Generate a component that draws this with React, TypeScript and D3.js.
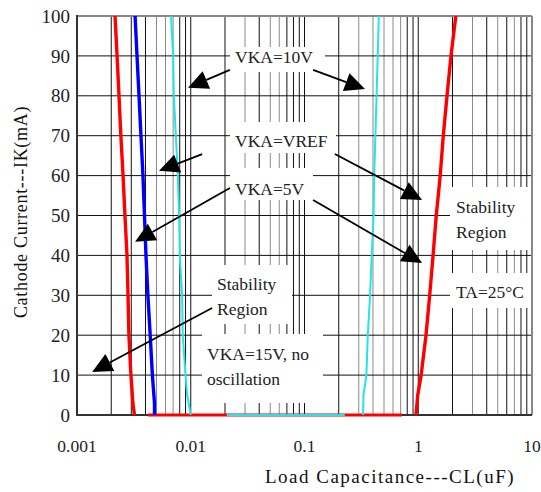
import React from "react";
import * as d3 from "d3";

// Load capacitance (uF) vs cathode current (mA) stability boundaries
const xTicks = [0.001, 0.01, 0.1, 1, 10];
const xTickLabels = ["0.001", "0.01", "0.1", "1", "10"];
const yTicks = [0, 10, 20, 30, 40, 50, 60, 70, 80, 90, 100];

const redLeftIK = [100, 90, 80, 70, 60, 50, 40, 30, 20, 10, 3, 0];
const redLeftCL = [0.00216, 0.00225, 0.00234, 0.00243, 0.00254, 0.00264, 0.00275, 0.00281, 0.00286, 0.00298, 0.0031, 0.0032];

const blueIK = [100, 90, 80, 70, 60, 50, 40, 30, 20, 10, 3, 0];
const blueCL = [0.00324, 0.00337, 0.00351, 0.00365, 0.0038, 0.00392, 0.00404, 0.0042, 0.0044, 0.0046, 0.0048, 0.0048];

const cyanLeftIK = [100, 90, 80, 70, 60, 50, 40, 30, 20, 10, 5, 0];
const cyanLeftCL = [0.0067, 0.007, 0.0071, 0.0074, 0.0077, 0.0079, 0.008, 0.0084, 0.0085, 0.009, 0.0093, 0.01];

const cyanRightIK = [0, 5, 10, 20, 30, 40, 50, 60, 70, 80, 90, 100];
const cyanRightCL = [0.327, 0.33, 0.35, 0.36, 0.377, 0.39, 0.405, 0.41, 0.42, 0.43, 0.44, 0.45];

const redRightIK = [0, 5, 10, 20, 30, 40, 50, 60, 70, 80, 90, 100];
const redRightCL = [0.955, 0.99, 1.06, 1.17, 1.26, 1.35, 1.44, 1.56, 1.66, 1.79, 1.94, 2.14];

const redBottomCL = [0.0042, 0.72];
const cyanBottomCL = [0.0208, 0.226];

// arrows: [fromCL, fromIK, tipCL, tipIK]
const arrows = [
  [0.0221, 86.5, 0.00946, 82.0],
  [0.119, 86.5, 0.34, 81.7],
  [0.0126, 65.4, 0.00526, 61.2],
  [0.185, 65.4, 1.08, 53.9],
  [0.0221, 56.9, 0.00324, 43.4],
  [0.119, 53.9, 1.08, 38.1],
  [0.0154, 26.8, 0.00136, 10.8],
];

// label text lines, with pixel layout kept separately
const labelLines = [
  ["VKA=10V"],
  ["VKA=VREF"],
  ["VKA=5V"],
  ["Stability", "Region"],
  ["VKA=15V, no", "oscillation"],
  ["Stability", "Region"],
  ["TA=25°C"],
];
const labelLayout = [
  { x: 235, y: 63, box: [230, 47, 95, 25] },
  { x: 235, y: 147, box: [230, 122, 106, 31] },
  { x: 235, y: 195, box: [230, 168, 83, 32] },
  { x: 217, y: 290, box: [212, 265, 80, 59] },
  { x: 207, y: 360, box: [202, 334, 121, 69] },
  { x: 456, y: 213, box: [450, 187, 81, 63] },
  { x: 456, y: 298, box: [450, 273, 81, 35] },
];

const grayGrid = [0.005, 0.006, 0.007, 0.03, 0.05, 0.06, 0.3, 0.4, 0.5, 0.6, 0.7, 3, 5, 7];

const W = 541;
const H = 492;
const FONT = "Liberation Serif, Times New Roman, DejaVu Serif, serif";

export default function App() {
  const x = d3.scaleLog().domain([0.001, 10]).range([77, 532]);
  const y = d3.scaleLinear().domain([0, 100]).range([415, 16]);

  const minor: number[] = [];
  for (let e = -3; e < 1; e++) {
    for (let m = 2; m <= 9; m++) minor.push(+(m * Math.pow(10, e)).toPrecision(3));
  }

  const line = d3
    .line<[number, number]>()
    .x((d) => x(d[0]))
    .y((d) => y(d[1]));

  const zip = (cl: number[], ik: number[]) => cl.map((c, i) => [c, ik[i]] as [number, number]);

  const curves = [
    { pts: zip(redBottomCL, [0, 0]), color: "#ff0000", w: 3.2 },
    { pts: zip(cyanBottomCL, [0, 0]), color: "#22e4ea", w: 2.2 },
    { pts: zip(redLeftCL, redLeftIK), color: "#ff0000", w: 3.4 },
    { pts: zip(blueCL, blueIK), color: "#0000ff", w: 3.4 },
    { pts: zip(cyanLeftCL, cyanLeftIK), color: "#22e4ea", w: 2 },
    { pts: zip(cyanRightCL, cyanRightIK), color: "#22e4ea", w: 2 },
    { pts: zip(redRightCL, redRightIK), color: "#ff0000", w: 3.4 },
  ];

  const arrowShapes = arrows.map(([fc, fi, tc, ti]) => {
    const x0 = x(fc), y0 = y(fi), x1 = x(tc), y1 = y(ti);
    const len = Math.hypot(x1 - x0, y1 - y0);
    const ux = (x1 - x0) / len, uy = (y1 - y0) / len;
    const L = 20, hw = 9.5;
    const bx = x1 - ux * L, by = y1 - uy * L;
    const pts = [
      [x1, y1],
      [bx - uy * hw, by + ux * hw],
      [bx + uy * hw, by - ux * hw],
    ];
    return { x0, y0, bx, by, poly: pts.map((p) => p.join(",")).join(" ") };
  });

  const txt = { fontFamily: FONT };

  return (
    <svg
      width={W}
      height={H}
      style={{ position: "absolute", left: 0, top: 0, background: "#fff", fontFamily: FONT }}
    >
      {/* vertical grid */}
      {minor.map((v) => (
        <line key={"m" + v} x1={x(v)} x2={x(v)} y1={y(100)} y2={y(0)}
          stroke={grayGrid.includes(v) ? "#8a8a8a" : "#111"} strokeWidth={1} />
      ))}
      {xTicks.slice(1, -1).map((v) => (
        <line key={"M" + v} x1={x(v)} x2={x(v)} y1={y(100)} y2={y(0)} stroke="#111" strokeWidth={1} />
      ))}
      {/* horizontal grid */}
      {yTicks.slice(1, -1).map((v) => (
        <line key={"h" + v} x1={x(0.001)} x2={x(10)} y1={y(v)} y2={y(v)} stroke="#111" strokeWidth={1} />
      ))}
      {/* frame */}
      <line x1={x(0.001)} x2={x(10)} y1={y(100)} y2={y(100)} stroke="#888" strokeWidth={2} />
      <line x1={x(10)} x2={x(10)} y1={y(100)} y2={y(0)} stroke="#888" strokeWidth={2} />
      <line x1={x(0.001)} x2={x(0.001)} y1={y(100) - 1} y2={y(0) + 1} stroke="#333" strokeWidth={2} />
      <line x1={x(0.001)} x2={x(10)} y1={y(0)} y2={y(0)} stroke="#333" strokeWidth={2} />

      {/* label boxes */}
      {labelLayout.map((l, i) => (
        <rect key={"b" + i} x={l.box[0]} y={l.box[1]} width={l.box[2]} height={l.box[3]} fill="#fff" />
      ))}

      {/* curves */}
      {curves.map((c, i) => (
        <path key={"c" + i} d={line(c.pts) || ""} fill="none" stroke={c.color}
          strokeWidth={c.w} strokeLinejoin="round" />
      ))}

      {/* arrows */}
      {arrowShapes.map((a, i) => (
        <g key={"a" + i}>
          <line x1={a.x0} y1={a.y0} x2={a.bx} y2={a.by} stroke="#000" strokeWidth={1.8} />
          <polygon points={a.poly} fill="#000" />
        </g>
      ))}

      {/* labels */}
      {labelLines.map((lines, i) => (
        <text key={"t" + i} x={labelLayout[i].x} y={labelLayout[i].y} fontSize={17.5} fill="#222" style={txt}>
          {lines.map((s, j) => (
            <tspan key={j} x={labelLayout[i].x} dy={j === 0 ? 0 : 25}>{s}</tspan>
          ))}
        </text>
      ))}

      {/* tick labels */}
      {yTicks.map((v) => (
        <text key={"yt" + v} x={70} y={y(v)} dy="0.35em" textAnchor="end" fontSize={19} fill="#222" style={txt}>
          {v}
        </text>
      ))}
      {xTicks.map((v, i) => (
        <text key={"xt" + v} x={x(v)} y={452} textAnchor="middle" fontSize={17.5} fill="#222" style={txt}>
          {xTickLabels[i]}
        </text>
      ))}

      {/* axis titles */}
      <text x={390} y={483} textAnchor="middle" fontSize={19} letterSpacing={1.5} fill="#111" style={txt}>
        Load Capacitance---CL(uF)
      </text>
      <text transform="translate(27,212) rotate(-90)" textAnchor="middle" fontSize={18}
        letterSpacing={0.7} fill="#111" style={txt}>
        Cathode Current---IK(mA)
      </text>
    </svg>
  );
}
